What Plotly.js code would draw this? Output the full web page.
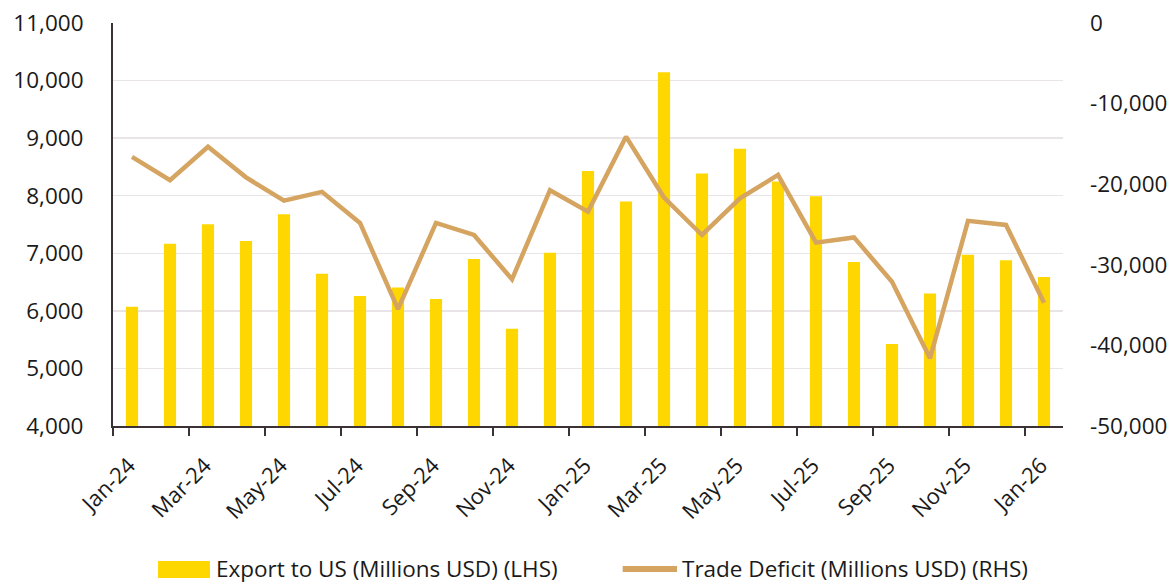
<!DOCTYPE html>
<html>
<head>
<meta charset="utf-8">
<script src="https://cdn.plot.ly/plotly-3.0.1.min.js"></script>
<style>html,body{margin:0;padding:0;background:#fff;}#chart{width:1171px;height:583px;}</style>
</head>
<body>
<div id="chart"></div>
<script>
const months = ["Jan-24","Feb-24","Mar-24","Apr-24","May-24","Jun-24","Jul-24","Aug-24","Sep-24","Oct-24","Nov-24","Dec-24",
                "Jan-25","Feb-25","Mar-25","Apr-25","May-25","Jun-25","Jul-25","Aug-25","Sep-25","Oct-25","Nov-25","Dec-25","Jan-26"];
const exportsUS = [6070,7165,7505,7215,7680,6645,6260,6405,6205,6900,5690,7010,
                   8430,7900,10145,8385,8815,8245,7990,6850,5425,6300,6975,6880,6590];
const tradeDeficit = [-16600,-19500,-15350,-19150,-22050,-20950,-24800,-35500,-24800,-26300,-31800,-20750,
                      -23400,-14100,-21650,-26300,-21750,-18850,-27250,-26600,-32100,-41600,-24550,-25050,-34700];
const tickLabels = ["Jan-24","Mar-24","May-24","Jul-24","Sep-24","Nov-24","Jan-25","Mar-25","May-25","Jul-25","Sep-25","Nov-25","Jan-26"];
const rhsTickVals = [-50000,-40000,-30000,-20000,-10000,0];
const rhsTickText = ["-50,000","-40,000","-30,000","-20,000","-10,000","0"];
const legendNames = ["Export to US (Millions USD) (LHS)","Trade Deficit (Millions USD) (RHS)"];

const xIdx = months.map((m,i)=>i);
const tickPos = tickLabels.map(t => months.indexOf(t) - 0.5);

const barColor = '#FFD700';
const lineColor = '#D4A460';
const font = 'Open Sans, Lato, sans-serif';
const txt = '#1a1a1a';

const traces = [
  {type:'bar', x:xIdx, y:exportsUS, name:legendNames[0], marker:{color:barColor}, width:0.32, yaxis:'y', showlegend:false},
  {type:'scatter', mode:'lines', x:xIdx, y:tradeDeficit, name:legendNames[1], line:{color:lineColor, width:4.5}, yaxis:'y2', showlegend:false}
];

const layout = {
  width:1171, height:583,
  margin:{l:113, r:108, t:23, b:157},
  paper_bgcolor:'#fff', plot_bgcolor:'#fff',
  font:{family:font, color:txt, size:22},
  xaxis:{range:[-0.5,24.5], tickmode:'array', tickvals:tickPos, ticktext:tickLabels, tickangle:-45,
         showgrid:false, zeroline:false, showline:true, linecolor:'#3b3236', linewidth:2,
         ticks:'outside', ticklen:8, tickwidth:2, tickcolor:'#3b3236', ticklabelshift:16, ticklabelstandoff:8,
         tickfont:{size:22, family:font, color:txt}},
  yaxis:{range:[4000,11000], dtick:1000, tickformat:',d', showgrid:true, gridcolor:'#e8e4e8', gridwidth:1.5,
         zeroline:false, showline:true, linecolor:'#3b3236', linewidth:2, ticks:'', ticklabelstandoff:23,
         tickfont:{size:22.5, family:font, color:txt}},
  yaxis2:{range:[-50000,0], tickmode:'array', tickvals:rhsTickVals, ticktext:rhsTickText, overlaying:'y', side:'right', showgrid:false,
          zeroline:false, showline:false, ticks:'', ticklabelstandoff:26, tickfont:{size:22.5, family:font, color:txt}},
  shapes:[
    {type:'rect', xref:'paper', yref:'paper', x0:0.0474, x1:0.1021, y0:-0.3772, y1:-0.335, fillcolor:barColor, line:{width:0}},
    {type:'line', xref:'paper', yref:'paper', x0:0.5365, x1:0.5937, y0:-0.3548, y1:-0.3548, line:{color:lineColor, width:6}}
  ],
  annotations:[
    {xref:'paper', yref:'paper', x:0.1064, y:-0.3524, xanchor:'left', yanchor:'middle', text:legendNames[0], showarrow:false, font:{size:22.5, family:font, color:txt}},
    {xref:'paper', yref:'paper', x:0.5969, y:-0.3524, xanchor:'left', yanchor:'middle', text:legendNames[1], showarrow:false, font:{size:22.5, family:font, color:txt}}
  ]
};

Plotly.newPlot('chart', traces, layout, {displayModeBar:false, staticPlot:true});
</script>
</body>
</html>
